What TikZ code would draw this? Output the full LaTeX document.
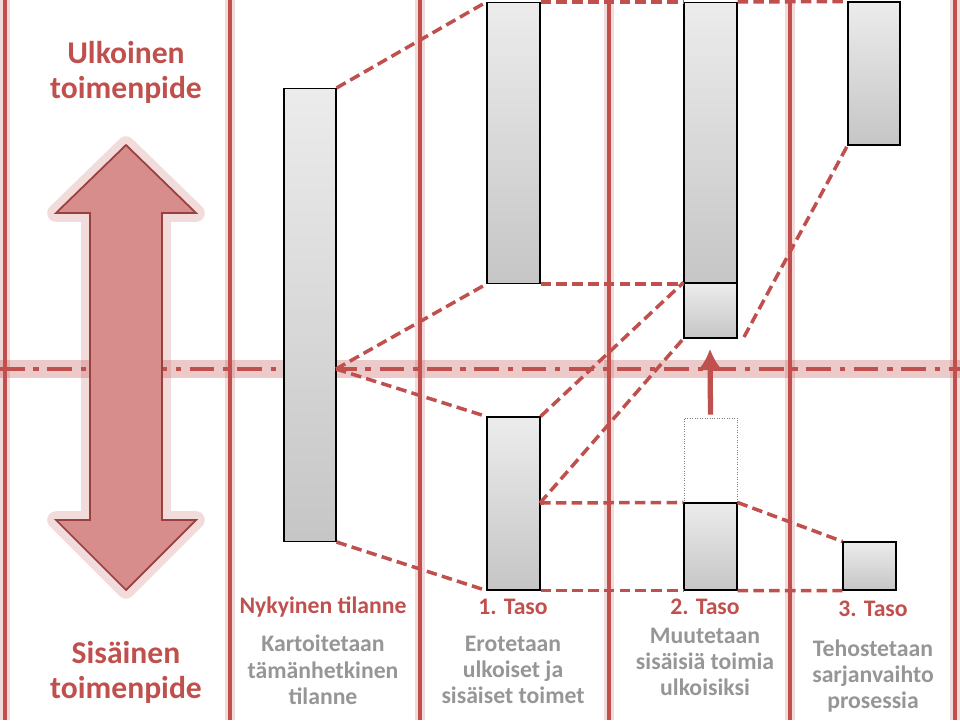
\documentclass[tikz,border=0pt]{standalone}
\usepackage{fontspec}
\setmainfont{Carlito}
\usetikzlibrary{positioning,arrows.meta}
\definecolor{tred}{RGB}{192,80,77}
\definecolor{tgray}{RGB}{150,150,150}
\begin{document}
\begin{tikzpicture}[x=0.02cm,y=-0.02cm,
    bar/.style={draw=black,semithick,top color=gray!15,bottom color=gray!45},
    link/.style={tred,dashed,line width=2pt,dash pattern=on 6pt off 3pt},
    heading/.style={text=tred,font=\bfseries\fontsize{18}{20}\selectfont,align=center},
    level/.style={text=tred,font=\bfseries\fontsize{13.5}{15}\selectfont},
    explain/.style={text=tgray,font=\bfseries\fontsize{13.5}{15}\selectfont,align=center}
    ]
    \useasboundingbox (0,0) rectangle (960,720);

    % lanes
    \foreach \x in {5,230,420,609,790,955} {
      \draw[tred,opacity=0.2,line width=6pt] (\x,0) -- (\x,720);
      \draw[tred,line width=2.5pt] (\x,0) -- (\x,720);
    }
    \draw[tred,opacity=0.3,line width=10pt] (0,369) -- (960,369);
    \draw[tred,line width=2.5pt,dash pattern=on 14pt off 5pt on 3pt off 5pt] (0,369) -- (960,369);

    % double arrow
    \draw[tred,opacity=0.2,line width=10pt,line join=round]
      (126,145) -- (196,213) -- (162,213) -- (162,520) -- (196,520) -- (126,590)
      -- (56,520) -- (90,520) -- (90,213) -- (56,213) -- cycle;
    \draw[draw=tred!80!black,fill=tred!65,line width=1pt]
      (126,145) -- (196,213) -- (162,213) -- (162,520) -- (196,520) -- (126,590)
      -- (56,520) -- (90,520) -- (90,213) -- (56,213) -- cycle;

    % bars
    \node (now) at (310,315) [bar,minimum width=52*0.02cm,minimum height=453*0.02cm] {};
    \node (t1a) at (513.5,143) [bar,minimum width=53*0.02cm,minimum height=281*0.02cm] {};
    \node (t1b) at (513.5,503.5) [bar,minimum width=53*0.02cm,minimum height=173*0.02cm] {};
    \node (t2a) at (710.5,143) [bar,minimum width=53*0.02cm,minimum height=281*0.02cm] {};
    \node (t2b) at (710.5,310.5) [bar,minimum width=53*0.02cm,minimum height=55*0.02cm] {};
    \node (t2c) at (710.5,460.5) [draw=gray,densely dotted,minimum width=53*0.02cm,minimum height=85*0.02cm] {};
    \node (t2d) at (710.5,546.5) [bar,minimum width=53*0.02cm,minimum height=87*0.02cm] {};
    \node (t3a) at (874,73.5) [bar,minimum width=52*0.02cm,minimum height=143*0.02cm] {};
    \node (t3b) at (869.5,566) [bar,minimum width=53*0.02cm,minimum height=48*0.02cm] {};
    \coordinate (mid) at (336,369);
    \coordinate (gap) at (744,337);
    \coordinate (t1mid) at (540,503);
    \coordinate (tip) at (710,349);

    % connections
    \draw[link] (now.north east) -- (t1a.north west);
    \draw[link] (mid) -- (t1a.south west);
    \draw[link] (mid) -- (t1b.north west);
    \draw[link] (now.south east) -- (t1b.south west);
    \draw[link] (t1a.north east) -- (t2a.north west);
    \draw[link] (t1a.south east) -- (t2a.south west);
    \draw[link] (t1b.north east) -- (t2b.north west);
    \draw[link] (t1mid) -- (t2b.south west);
    \draw[link] (t1mid) -- (t2d.north west);
    \draw[link] (t1b.south east) -- (t2d.south west);
    \draw[link] (t2a.north east) -- (t3a.north west);
    \draw[link] (gap) -- (t3a.south west);
    \draw[link] (t2d.north east) -- (t3b.north west);
    \draw[link] (t2d.south east) -- (t3b.south west);
    \draw[tred,line width=3pt,-{Latex[length=12pt,width=14pt]}] ([yshift=0.06cm]t2c.north) -- (tip);

    % texts
    \node (outer) at (126,72) [heading] {Ulkoinen\\toimenpide};
    \node (inner) at (126,672) [heading] {Sisäinen\\toimenpide};
    \node (l0) at (323,607) [level] {Nykyinen tilanne};
    \node (l1) at (513,607) [level] {1. Taso};
    \node (l2) at (705,607) [level] {2. Taso};
    \node (l3) at (873,609) [level] {3. Taso};
    \node (e0) at (323,670) [explain] {Kartoitetaan\\tämänhetkinen\\tilanne};
    \node (e1) at (513,670) [explain] {Erotetaan\\ulkoiset ja\\sisäiset toimet};
    \node (e2) at (705,662) [explain] {Muutetaan\\sisäisiä toimia\\ulkoisiksi};
    \node (e3) at (873,676) [explain] {Tehostetaan\\sarjanvaihto\\prosessia};
\end{tikzpicture}
\end{document}
